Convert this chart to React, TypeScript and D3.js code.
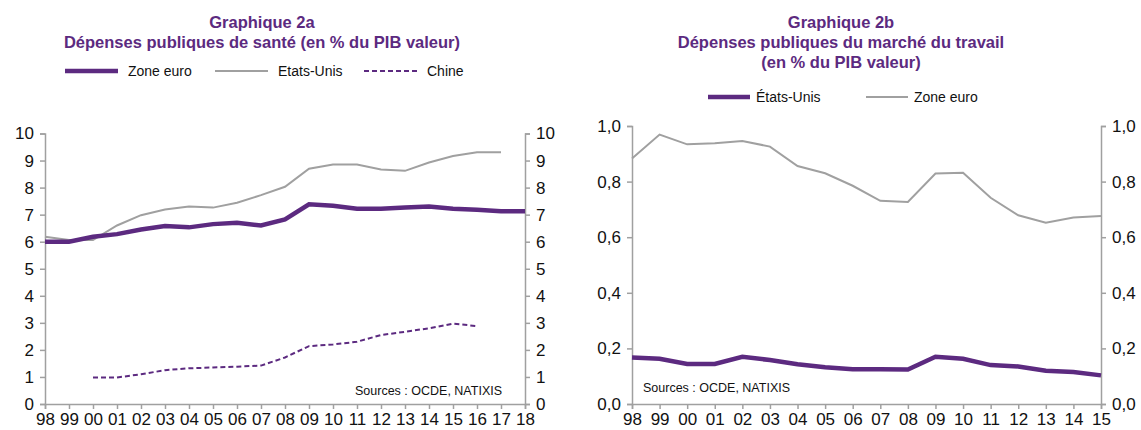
import React, { useEffect, useRef } from 'react';
import * as d3 from 'd3';

// Graphique 2a : santé (% du PIB)
const yearsA = ['98', '99', '00', '01', '02', '03', '04', '05', '06', '07', '08', '09', '10', '11', '12', '13', '14', '15', '16', '17', '18'];
const zoneEuroA = [6.0, 6.0, 6.18, 6.28, 6.45, 6.58, 6.53, 6.65, 6.7, 6.6, 6.82, 7.38, 7.33, 7.22, 7.22, 7.26, 7.3, 7.22, 7.18, 7.13, 7.13];
const etatsUnisA = [6.18, 6.06, 6.06, 6.6, 6.98, 7.19, 7.3, 7.26, 7.44, 7.72, 8.03, 8.7, 8.85, 8.85, 8.67, 8.62, 8.93, 9.17, 9.31, 9.31, null];
const chineA = [null, null, 0.98, 0.98, 1.1, 1.25, 1.32, 1.35, 1.38, 1.42, 1.72, 2.14, 2.2, 2.3, 2.55, 2.67, 2.8, 2.97, 2.88, null, null];
const ticksA = [0, 1, 2, 3, 4, 5, 6, 7, 8, 9, 10];

// Graphique 2b : marché du travail (% du PIB)
const yearsB = ['98', '99', '00', '01', '02', '03', '04', '05', '06', '07', '08', '09', '10', '11', '12', '13', '14', '15'];
const etatsUnisB = [0.167, 0.163, 0.144, 0.144, 0.17, 0.158, 0.143, 0.132, 0.125, 0.125, 0.124, 0.17, 0.163, 0.14, 0.135, 0.12, 0.115, 0.103];
const zoneEuroB = [0.883, 0.969, 0.934, 0.938, 0.946, 0.926, 0.856, 0.83, 0.785, 0.731, 0.727, 0.829, 0.832, 0.742, 0.679, 0.652, 0.671, 0.676];
const ticksB = [0, 0.2, 0.4, 0.6, 0.8, 1.0];

const PURPLE = '#5c2a80';
const GREY = '#a0a0a0';
const FONT = '"Liberation Sans", Arial, sans-serif';

const App = () => {
    const svgRef = useRef<SVGSVGElement>(null);

    useEffect(() => {
        const svg = d3.select(svgRef.current);
        svg.selectAll('*').remove();

        const drawPanel = (cfg: any) => {
            const { years, yTicks, yDomain, x0, x1, y0, y1, series, fmt, sources } = cfg;
            const x = d3.scalePoint().domain(years).range([x0, x1]);
            const y = d3.scaleLinear().domain(yDomain).range([y0, y1]);
            const g = svg.append('g');

            const styleAxis = (sel: any) => {
                sel.select('.domain').attr('stroke', GREY).attr('stroke-width', 1.5);
                sel.selectAll('.tick line').attr('stroke', GREY).attr('stroke-width', 1.5);
                sel.selectAll('text').attr('fill', '#111').style('font-family', FONT).style('font-size', '17px');
            };

            g.append('g')
                .attr('transform', `translate(0,${y0})`)
                .call(d3.axisBottom(x).tickSizeOuter(0).tickSize(5).tickPadding(4))
                .call(styleAxis);
            g.append('g')
                .attr('transform', `translate(${x0},0)`)
                .call(d3.axisLeft(y).tickValues(yTicks).tickFormat(fmt).tickSizeOuter(0).tickSize(5).tickPadding(6))
                .call(styleAxis);
            g.append('g')
                .attr('transform', `translate(${x1},0)`)
                .call(d3.axisRight(y).tickValues(yTicks).tickFormat(fmt).tickSizeOuter(0).tickSize(5).tickPadding(6))
                .call(styleAxis);

            series.forEach((s: any) => {
                const line = d3.line<any>()
                    .defined((d) => d != null)
                    .x((d, i) => x(years[i]) as number)
                    .y((d) => y(d));
                g.append('path')
                    .datum(s.values)
                    .attr('fill', 'none')
                    .attr('stroke', s.color)
                    .attr('stroke-width', s.width)
                    .attr('stroke-dasharray', s.dash || null)
                    .attr('d', line);
            });

            g.append('text')
                .attr('x', sources.x)
                .attr('y', sources.y)
                .style('font-family', FONT)
                .style('font-size', '12.5px')
                .attr('fill', '#111')
                .text('Sources : OCDE, NATIXIS');
        };

        drawPanel({
            years: yearsA, yTicks: ticksA, yDomain: [0, 10],
            x0: 45, x1: 525, y0: 404, y1: 133.5,
            fmt: d3.format('d'),
            series: [
                { values: etatsUnisA, color: GREY, width: 2 },
                { values: chineA, color: PURPLE, width: 2, dash: '5,3' },
                { values: zoneEuroA, color: PURPLE, width: 4.5 },
            ],
            sources: { x: 355, y: 395 },
        });

        drawPanel({
            years: yearsB, yTicks: ticksB, yDomain: [0, 1],
            x0: 632, x1: 1101, y0: 404, y1: 126,
            fmt: (d: number) => d3.format('.1f')(d).replace('.', ','),
            series: [
                { values: zoneEuroB, color: GREY, width: 2 },
                { values: etatsUnisB, color: PURPLE, width: 4.5 },
            ],
            sources: { x: 643, y: 392 },
        });
    }, []);

    const legendA = [
        { label: 'Zone euro', color: PURPLE, width: 4.5, dash: null, x: 65 },
        { label: 'Etats-Unis', color: GREY, width: 2, dash: null, x: 215 },
        { label: 'Chine', color: PURPLE, width: 2, dash: '5,3', x: 364 },
    ];
    const legendB = [
        { label: 'États-Unis', color: PURPLE, width: 4.5, dash: null, x: 708 },
        { label: 'Zone euro', color: GREY, width: 2, dash: null, x: 866 },
    ];

    const titleStyle = { fontFamily: FONT, fontSize: '16.5px', fontWeight: 700 as const, fill: PURPLE };

    return (
        <svg width={1141} height={430} style={{ position: 'absolute', left: 0, top: 0, background: '#fff' }}>
            <text x={262} y={28} textAnchor="middle" style={titleStyle}>Graphique 2a</text>
            <text x={262} y={48} textAnchor="middle" style={titleStyle}>Dépenses publiques de santé (en % du PIB valeur)</text>
            <text x={841} y={28} textAnchor="middle" style={titleStyle}>Graphique 2b</text>
            <text x={841} y={48} textAnchor="middle" style={titleStyle}>Dépenses publiques du marché du travail</text>
            <text x={841} y={68} textAnchor="middle" style={titleStyle}>(en % du PIB valeur)</text>
            {legendA.map((l) => (
                <g key={l.label}>
                    <line x1={l.x} x2={l.x + 53} y1={71} y2={71} stroke={l.color} strokeWidth={l.width} strokeDasharray={l.dash || undefined} />
                    <text x={l.x + 63} y={76} style={{ fontFamily: FONT, fontSize: '14px' }} fill="#111">{l.label}</text>
                </g>
            ))}
            {legendB.map((l) => (
                <g key={l.label}>
                    <line x1={l.x} x2={l.x + 42} y1={97} y2={97} stroke={l.color} strokeWidth={l.width} />
                    <text x={l.x + 48} y={102} style={{ fontFamily: FONT, fontSize: '14px' }} fill="#111">{l.label}</text>
                </g>
            ))}
            <g ref={svgRef} />
        </svg>
    );
};

export default App;
